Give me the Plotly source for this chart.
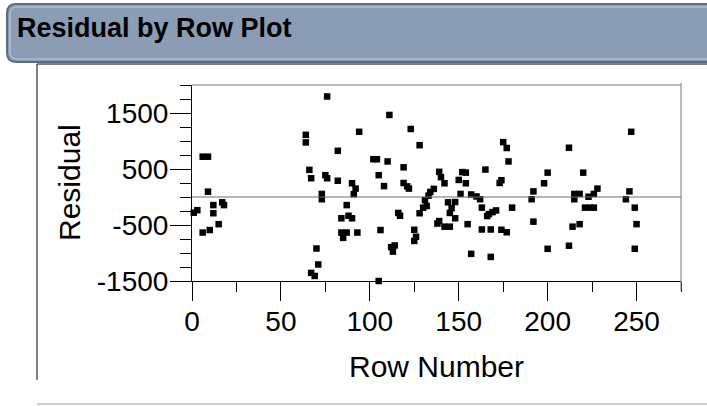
import plotly.graph_objects as go

# ---- data ----
row_number = [1, 3, 6, 9, 9, 12, 12, 17, 18, 6, 10, 15,
              76, 64, 64, 94, 82, 66, 67, 75, 76, 82, 90, 92, 91, 73, 73, 87, 84, 88, 90, 84, 87, 85, 93, 70, 71, 67, 69,
              102, 104, 105, 108, 106, 105,
              110, 111, 123, 128, 119, 119, 121, 122, 116, 117, 125, 126, 125, 112, 114, 113, 128, 130, 132, 131, 133,
              134, 136, 139, 140, 142, 144, 148, 145, 146, 148, 138, 139, 142, 145, 150, 152, 154, 154, 151, 155, 157,
              157, 160, 162, 163, 166, 167, 169, 171, 163, 168, 174, 177, 168, 165, 173, 174, 175, 177, 178, 180,
              191, 192, 192, 200, 198, 200,
              212, 220, 215, 218, 215, 223, 226, 228, 221, 224, 226, 214, 218, 212, 247, 246, 244, 249, 250, 249]
residual = [-280, -235, 720, 720, 95, -145, -290, -95, -145, -635, -590, -485,
            1795, 1110, 975, 1165, 825, 485, 335, 390, 335, 290, 245, 150, 50, 55, -40, -145, -380, -335, -380, -635,
            -635, -730, -635, -920, -1205, -1355, -1410,
            675, 675, 390, 195, -590, -1500,
            635, 1465, 1215, 925, 530, 250, 190, 150, -285, -335, -585, -710, -785, -895, -865, -975, -290, -190,
            -160, -55, 25, 90, 145, 450, 355, 245, -95, -90, -285, -200, -380, -475, -430, -530, -530, 305, 445, 435,
            245, 55, -485, -1015,
            45, 10, -40, -190, -340, -305, -270, -240, -580, -580, -585, -630, -1070, 490, 250, 300, 980, 875, 635,
            -190, -40, 100, -440, 435, 245, -925,
            880, 435, 55, 55, -40, 5, 55, 150, -190, -190, -190, -530, -485, -870, 1165, 100, -40, -190, -485, -925]

x_range = [0, 275]
y_range = [-1500, 2000]
x_tickvals = [0, 50, 100, 150, 200, 250]
x_ticktext = ["0", "50", "100", "150", "200", "250"]
y_tickvals = [-1500, -500, 500, 1500]
y_ticktext = ["-1500", "-500", "500", "1500"]
title_text = "Residual by Row Plot"
x_title = "Row Number"
y_title = "Residual"

FONT = "Arial, Liberation Sans, Helvetica, sans-serif"
W, H = 707, 406
ML, MR, MT, MB = 192, 26, 85, 125
PW, PH = W - ML - MR, H - MT - MB


def fx(p):
    return (p - ML) / PW


def fy(p):
    return (MT + PH - p) / PH


def rounded(x0, y0, x1, y1, r):
    pts = [("M", x0 + r, y0), ("L", x1 - r, y0), ("Q", x1, y0, x1, y0 + r), ("L", x1, y1 - r),
           ("Q", x1, y1, x1 - r, y1), ("L", x0 + r, y1), ("Q", x0, y1, x0, y1 - r), ("L", x0, y0 + r),
           ("Q", x0, y0, x0 + r, y0)]
    s = ""
    for p in pts:
        if p[0] == "Q":
            s += "Q%f,%f %f,%f " % (fx(p[1]), fy(p[2]), fx(p[3]), fy(p[4]))
        else:
            s += "%s%f,%f " % (p[0], fx(p[1]), fy(p[2]))
    return s + "Z"


fig = go.Figure()
fig.add_trace(go.Scatter(
    x=row_number, y=residual, mode="markers",
    marker=dict(symbol="square", size=6.5, color="black", line=dict(width=0)),
    cliponaxis=False, showlegend=False, hoverinfo="x+y"))

shapes = [
    # title bar
    dict(type="path", xref="paper", yref="paper", path=rounded(7, 4, 722, 62, 9),
         fillcolor="rgb(138,157,181)", line=dict(color="rgb(92,108,128)", width=2), layer="below"),
    dict(type="path", xref="paper", yref="paper", path=rounded(10, 7, 722, 59, 7),
         fillcolor="rgba(0,0,0,0)", line=dict(color="rgb(190,202,216)", width=1), layer="below"),
    # outline panel
    dict(type="line", xref="paper", yref="paper", x0=fx(37), x1=fx(707), y0=fy(64), y1=fy(64),
         line=dict(color="black", width=1)),
    dict(type="line", xref="paper", yref="paper", x0=fx(37), x1=fx(37), y0=fy(64), y1=fy(380),
         line=dict(color="black", width=1)),
    dict(type="line", xref="paper", yref="paper", x0=fx(37), x1=fx(707), y0=fy(404), y1=fy(404),
         line=dict(color="rgb(205,205,205)", width=2)),
    # plot frame top/right
    dict(type="line", xref="paper", yref="paper", x0=0, x1=1, y0=1, y1=1,
         line=dict(color="rgb(120,120,120)", width=1)),
    dict(type="line", xref="paper", yref="paper", x0=1, x1=1, y0=fy(83), y1=fy(291),
         line=dict(color="rgb(120,120,120)", width=1)),
    # zero reference line
    dict(type="line", xref="paper", yref="y", x0=0, x1=1, y0=0, y1=0,
         line=dict(color="rgb(110,110,110)", width=1)),
]

annotations = [
    dict(text="<b>%s</b>" % title_text, xref="paper", yref="paper", x=fx(15), y=fy(28),
         xanchor="left", yanchor="middle", showarrow=False, font=dict(family=FONT, size=27, color="black")),
    dict(text=x_title, xref="paper", yref="paper", x=0.5, y=fy(366), xanchor="center", yanchor="middle",
         showarrow=False, font=dict(family=FONT, size=30, color="black")),
    dict(text=y_title, xref="paper", yref="paper", x=fx(69), y=0.5, xanchor="center", yanchor="middle",
         textangle=-90, showarrow=False, font=dict(family=FONT, size=30, color="black")),
]

fig.update_layout(
    width=W, height=H, margin=dict(l=ML, r=MR, t=MT, b=MB, pad=0),
    paper_bgcolor="white", plot_bgcolor="white",
    font=dict(family=FONT, size=28, color="black"),
    shapes=shapes, annotations=annotations,
    xaxis=dict(range=x_range, tickmode="array", tickvals=x_tickvals, ticktext=x_ticktext,
               ticks="outside", ticklen=19, tickwidth=1, tickcolor="black", ticklabelstandoff=-4,
               showline=True, linecolor="black", linewidth=1, showgrid=False, zeroline=False,
               tickfont=dict(family=FONT, size=28, color="black"),
               minor=dict(dtick=25, tick0=0, ticks="outside", ticklen=10, tickwidth=1, tickcolor="black",
                          showgrid=False)),
    yaxis=dict(range=y_range, tickmode="array", tickvals=y_tickvals, ticktext=y_ticktext,
               ticks="outside", ticklen=21, tickwidth=1, ticklabelstandoff=-4,
               tickcolor="black", showline=True, linecolor="black", linewidth=1, showgrid=False, zeroline=False,
               tickfont=dict(family=FONT, size=28, color="black"),
               minor=dict(dtick=250, tick0=-1500, ticks="outside", ticklen=11, tickwidth=1, tickcolor="black",
                          showgrid=False)),
)

fig.write_html("out.html", config={"displayModeBar": False},
               post_script="document.body.style.margin='0';document.body.style.overflow='hidden';")
